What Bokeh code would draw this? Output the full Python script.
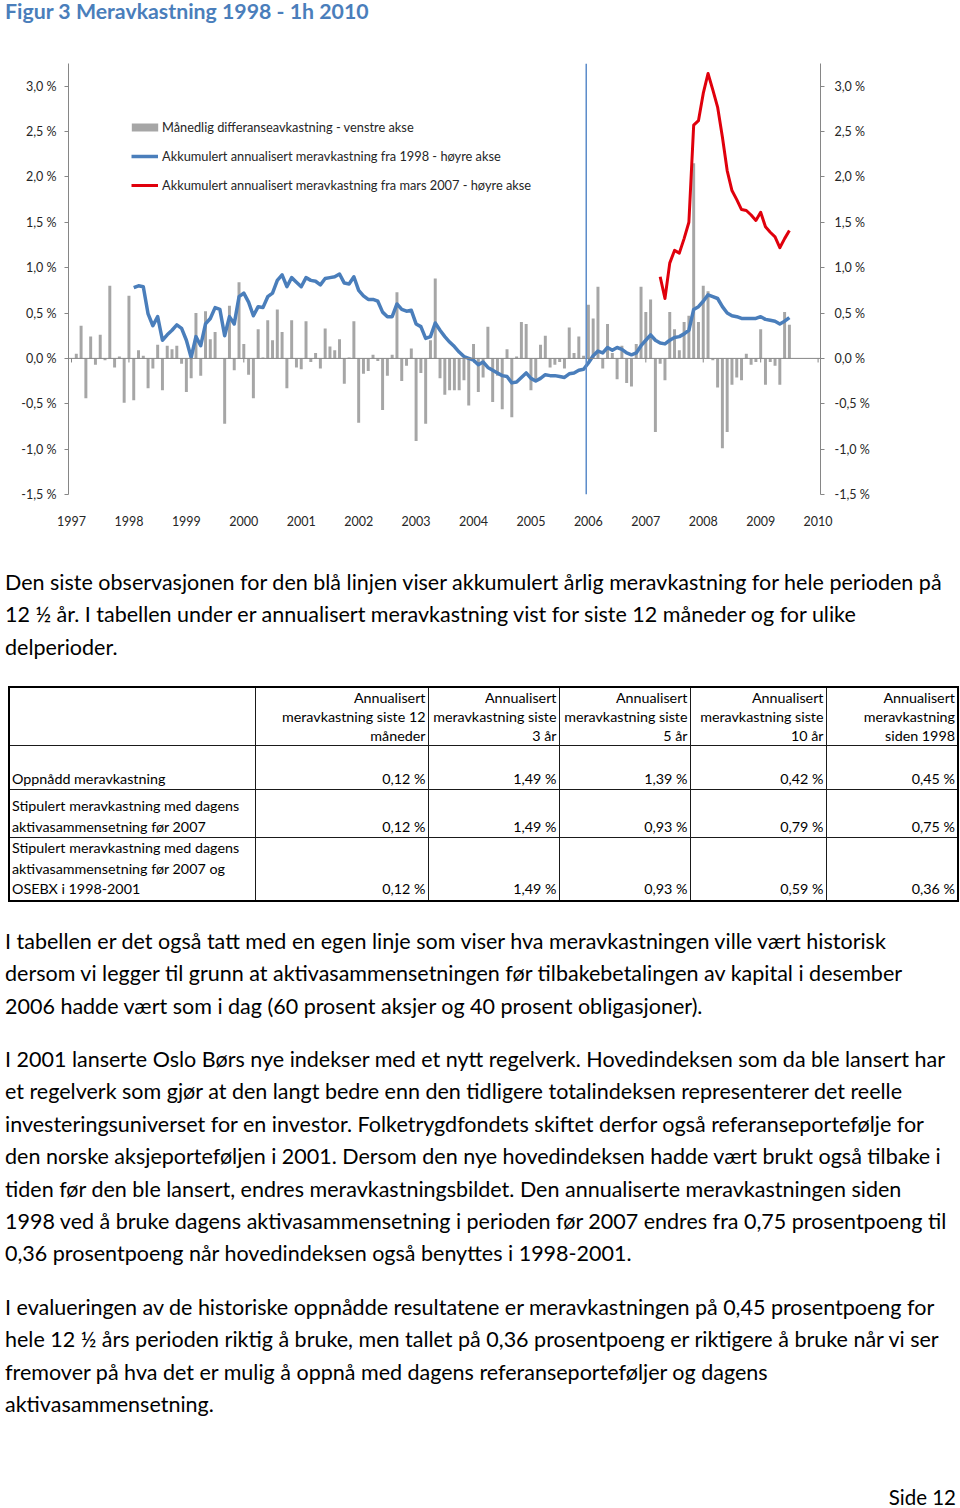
from bokeh.plotting import figure
from bokeh.models import (Range1d, LinearAxis, FixedTicker, CustomJSTickFormatter,
                          Span, Legend, LegendItem, Div)
from bokeh.layouts import column
from bokeh.embed import file_html
from bokeh.resources import INLINE

# ---------------- data ----------------
title_text = "Figur 3 Meravkastning 1998 - 1h 2010"
year_labels = [str(y) for y in range(1997, 2011)]
y_ticks = [-1.5, -1.0, -0.5, 0.0, 0.5, 1.0, 1.5, 2.0, 2.5, 3.0]

# monthly excess return (%), Jan 1998 .. Jun 2010 - left axis
monthly_excess = [
    0.05, 0.36, -0.44, 0.24, -0.07, 0.26, -0.02, 0.80, -0.10, 0.02, -0.49, 0.69,
    -0.46, 0.09, 0.03, -0.33, -0.11, 0.15, -0.35, 0.14, 0.10, 0.14, -0.06, -0.37,
    -0.22, 0.50, -0.19, 0.52, 0.21, 0.29, 0.00, -0.72, 0.58, -0.13, 0.84, 0.16,
    -0.18, -0.44, 0.32, 0.01, 0.42, 0.20, 0.54, 0.29, -0.33, 0.42, -0.10, -0.12,
    0.41, -0.04, 0.06, -0.11, 0.33, 0.13, 0.09, 0.21, -0.28, 0.01, 0.41, -0.71,
    -0.17, -0.14, 0.04, -0.03, -0.57, -0.19, 0.04, 0.73, -0.25, -0.08, 0.11, -0.91,
    -0.16, -0.72, 0.20, 0.88, -0.22, -0.40, -0.35, -0.35, -0.35, -0.24, -0.52, 0.16,
    -0.37, -0.21, 0.35, -0.48, -0.19, -0.56, 0.10, -0.65, 0.02, 0.40, 0.38, -0.35,
    -0.26, 0.15, 0.25, -0.10, -0.07, -0.04, -0.11, 0.34, 0.06, 0.24, 0.03, 0.59,
    0.44, 0.79, -0.11, 0.38, 0.06, -0.23, 0.14, -0.27, -0.31, 0.16, 0.79, 0.51,
    0.65, -0.81, -0.06, -0.24, 0.51, 0.32, 0.09, 0.40, 0.47, 2.15, 0.40, 0.80,
    0.74, -0.02, -0.32, -0.99, -0.81, -0.29, -0.21, -0.24, 0.05, -0.07, -0.04, 0.32,
    -0.29, -0.04, -0.08, -0.29, 0.51, 0.37,
]

# accumulated annualised excess return since 1998 (%), right axis, from month 12
cum_1998_start = 12
cum_1998 = [
    0.78, 0.80, 0.79, 0.49, 0.36, 0.46, 0.20, 0.26, 0.31, 0.37, 0.33, 0.20,
    0.01, 0.24, 0.14, 0.38, 0.44, 0.56, 0.54, 0.25, 0.46, 0.38, 0.68, 0.72,
    0.62, 0.47, 0.57, 0.56, 0.68, 0.72, 0.86, 0.92, 0.79, 0.89, 0.84, 0.79,
    0.89, 0.86, 0.85, 0.81, 0.88, 0.89, 0.90, 0.93, 0.83, 0.82, 0.90, 0.75,
    0.69, 0.65, 0.65, 0.63, 0.51, 0.46, 0.46, 0.60, 0.54, 0.52, 0.53, 0.38,
    0.35, 0.22, 0.24, 0.39, 0.31, 0.24, 0.18, 0.13, 0.07, 0.02, 0.00, -0.02,
    -0.07, -0.04, -0.10, -0.13, -0.16, -0.19, -0.20, -0.27, -0.26, -0.21, -0.16, -0.22,
    -0.25, -0.22, -0.18, -0.19, -0.19, -0.20, -0.21, -0.17, -0.16, -0.13, -0.12, -0.05,
    0.03, 0.08, 0.06, 0.12, 0.09, 0.12, 0.10, 0.06, 0.04, 0.06, 0.14, 0.20,
    0.26, 0.20, 0.17, 0.16, 0.20, 0.23, 0.24, 0.27, 0.31, 0.54, 0.57, 0.63,
    0.70, 0.68, 0.66, 0.57, 0.50, 0.47, 0.46, 0.44, 0.44, 0.44, 0.44, 0.46,
    0.43, 0.42, 0.41, 0.38, 0.41, 0.45,
]

# accumulated annualised excess return since March 2007 (%), right axis
cum_2007_start = 122
cum_2007 = [
    0.90, 0.66, 1.05, 1.19, 1.16, 1.32, 1.50, 2.57, 2.62, 2.92, 3.14, 2.96,
    2.77, 2.44, 2.07, 1.85, 1.75, 1.64, 1.63, 1.58, 1.52, 1.61, 1.45, 1.39,
    1.34, 1.22, 1.32, 1.41,
]

regime_change_month = 107   # December 2006

legend_labels = [
    "Månedlig differanseavkastning - venstre akse",
    "Akkumulert annualisert meravkastning fra 1998 - høyre akse",
    "Akkumulert annualisert meravkastning fra mars 2007 - høyre akse",
]

table_header = [
    "",
    "Annualisert<br>meravkastning siste 12<br>måneder",
    "Annualisert<br>meravkastning siste<br>3 år",
    "Annualisert<br>meravkastning siste<br>5 år",
    "Annualisert<br>meravkastning siste<br>10 år",
    "Annualisert<br>meravkastning<br>siden 1998",
]
table_rows = [
    ["Oppnådd meravkastning", "0,12 %", "1,49 %", "1,39 %", "0,42 %", "0,45 %"],
    ["Stipulert meravkastning med dagens<br>aktivasammensetning før 2007",
     "0,12 %", "1,49 %", "0,93 %", "0,79 %", "0,75 %"],
    ["Stipulert meravkastning med dagens<br>aktivasammensetning før 2007 og<br>OSEBX i 1998-2001",
     "0,12 %", "1,49 %", "0,93 %", "0,59 %", "0,36 %"],
]

para1 = [
    "Den siste observasjonen for den blå linjen viser akkumulert årlig meravkastning for hele perioden på",
    "12 ½ år. I tabellen under er annualisert meravkastning vist for siste 12 måneder og for ulike",
    "delperioder.",
]
para2 = [
    "I tabellen er det også tatt med en egen linje som viser hva meravkastningen ville vært historisk",
    "dersom vi legger til grunn at aktivasammensetningen før tilbakebetalingen av kapital i desember",
    "2006 hadde vært som i dag (60 prosent aksjer og 40 prosent obligasjoner).",
]
para3 = [
    "I 2001 lanserte Oslo Børs nye indekser med et nytt regelverk. Hovedindeksen som da ble lansert har",
    "et regelverk som gjør at den langt bedre enn den tidligere totalindeksen representerer det reelle",
    "investeringsuniverset for en investor. Folketrygdfondets skiftet derfor også referanseportefølje for",
    "den norske aksjeporteføljen i 2001. Dersom den nye hovedindeksen hadde vært brukt også tilbake i",
    "tiden før den ble lansert, endres meravkastningsbildet. Den annualiserte meravkastningen siden",
    "1998 ved å bruke dagens aktivasammensetning i perioden før 2007 endres fra 0,75 prosentpoeng til",
    "0,36 prosentpoeng når hovedindeksen også benyttes i 1998-2001.",
]
para4 = [
    "I evalueringen av de historiske oppnådde resultatene er meravkastningen på 0,45 prosentpoeng for",
    "hele 12 ½ års perioden riktig å bruke, men tallet på 0,36 prosentpoeng er riktigere å bruke når vi ser",
    "fremover på hva det er mulig å oppnå med dagens referanseporteføljer og dagens",
    "aktivasammensetning.",
]
footer_text = "Side 12"

# ---------------- chart ----------------
FONT = "Lato"
GRAY_AX = "#868686"
TXT = "#262626"

bar_x = [i + 1 for i in range(len(monthly_excess))]
x1998 = [cum_1998_start + i + 1 for i in range(len(cum_1998))]
x2007 = [cum_2007_start + i + 1 for i in range(len(cum_2007))]
year_ticks = [12 * k for k in range(len(year_labels))]

p = figure(width=960, height=520, x_range=Range1d(-0.63, 156.5), y_range=Range1d(-1.5, 3.25),
           output_backend="svg", toolbar_location=None,
           min_border_left=68, min_border_right=140, min_border_top=23, min_border_bottom=66)
p.outline_line_color = None
p.xgrid.visible = False
p.ygrid.visible = False
p.background_fill_color = "white"

fmt = CustomJSTickFormatter(code="return tick.toFixed(1).replace('.', ',') + ' %';")

def style_y(ax, standoff):
    ax.ticker = FixedTicker(ticks=y_ticks)
    ax.formatter = fmt
    ax.axis_line_color = GRAY_AX
    ax.major_tick_line_color = GRAY_AX
    ax.major_tick_out = 4
    ax.major_tick_in = 0
    ax.minor_tick_line_color = None
    ax.major_label_text_font = FONT
    ax.major_label_text_font_size = "12.5px"
    ax.major_label_text_color = TXT
    ax.major_label_standoff = standoff

style_y(p.yaxis[0], 8)
right_ax = LinearAxis()
style_y(right_ax, 10)
p.add_layout(right_ax, "right")

xa = p.xaxis[0]
xa.ticker = FixedTicker(ticks=year_ticks)
xa.major_label_overrides = {t: lab for t, lab in zip(year_ticks, year_labels)}
xa.axis_line_color = None
xa.major_tick_line_color = None
xa.minor_tick_line_color = None
xa.major_label_standoff = 15
xa.major_label_text_font = FONT
xa.major_label_text_font_size = "12.5px"
xa.major_label_text_color = TXT

p.add_layout(Span(location=0, dimension="width", line_color=GRAY_AX, line_width=1))
p.segment(x0=year_ticks, x1=year_ticks, y0=[0] * len(year_ticks), y1=[-0.045] * len(year_ticks),
          line_color=GRAY_AX, line_width=1)

r_bar = p.vbar(x=bar_x, top=monthly_excess, bottom=0, width=0.62,
               fill_color="#A6A6A6", line_color=None)
p.add_layout(Span(location=regime_change_month + 0.55, dimension="height",
                  line_color="#5B8BC9", line_width=1.5))
r_blue = p.line(x1998, cum_1998, line_color="#4A7EBB", line_width=3.5, line_join="round")
r_red = p.line(x2007, cum_2007, line_color="#E0000C", line_width=3, line_join="round")

leg1 = Legend(items=[LegendItem(label=legend_labels[0], renderers=[r_bar])],
              location=(60, 357), glyph_width=33, glyph_height=10, label_height=20,
              label_standoff=1, padding=0, margin=0, spacing=0,
              border_line_color=None, background_fill_alpha=0,
              label_text_font=FONT, label_text_font_size="12.8px", label_text_color=TXT)
leg2 = Legend(items=[LegendItem(label=legend_labels[1], renderers=[r_blue]),
                     LegendItem(label=legend_labels[2], renderers=[r_red])],
              location=(63, 299), glyph_width=27, glyph_height=20, label_height=20,
              label_standoff=4, padding=0, margin=0, spacing=9,
              border_line_color=None, background_fill_alpha=0,
              label_text_font=FONT, label_text_font_size="12.8px", label_text_color=TXT)
p.add_layout(leg1)
p.add_layout(leg2)

# ---------------- text parts ----------------
title_div = Div(text=f'<div style="font-family:Lato;font-weight:bold;font-size:21.3px;'
                     f'line-height:22px;color:#4A7EBB;padding-left:5px;white-space:nowrap;">{title_text}</div>',
                width=960, height=40, margin=(0, 0, 0, 0))

BODY_TOP = 560
FS = 21.5

def para(lines, first_center):
    top = first_center - BODY_TOP - 16
    return (f'<div style="position:absolute;left:5px;top:{top}px;font-size:{FS}px;'
            f'line-height:32.4px;white-space:nowrap;color:#000;">' + "<br>".join(lines) + "</div>")

col_w = [246, 173, 131, 131, 136, 132]
cell = "border:1.5px solid #1a1a1a;padding:0 2px;vertical-align:bottom;"
th = "".join(f'<td style="{cell}text-align:right;line-height:19px;">{h}</td>' for h in table_header)
rows_html = f'<tr style="height:55px;">{th}</tr>'
row_h = [44, 48, 60]
for r, h in zip(table_rows, row_h):
    tds = f'<td style="{cell}text-align:left;">{r[0]}</td>'
    tds += "".join(f'<td style="{cell}text-align:right;">{v}</td>' for v in r[1:])
    rows_html += f'<tr style="height:{h}px;">{tds}</tr>'
table_html = (f'<table style="position:absolute;left:8px;top:{686 - BODY_TOP}px;border-collapse:collapse;'
              f'table-layout:fixed;width:950px;font-size:14.3px;line-height:20.5px;border:2px solid #000;color:#000;">'
              + "<colgroup>" + "".join(f'<col style="width:{w}px">' for w in col_w) + "</colgroup>"
              + rows_html + "</table>")

footer_html = (f'<div style="position:absolute;right:4px;top:{1497 - BODY_TOP - 16}px;font-size:20.5px;'
               f'line-height:32px;white-space:nowrap;color:#000;">{footer_text}</div>')

body_html = ('<div style="position:relative;width:960px;height:948px;font-family:Lato;">'
             + para(para1, 582) + table_html + para(para2, 941) + para(para3, 1059)
             + para(para4, 1307) + footer_html + "</div>")
body_div = Div(text=body_html, width=960, height=948, margin=(0, 0, 0, 0))

layout = column(title_div, p, body_div, spacing=0)
open("out.html", "w").write(file_html(layout, INLINE))
